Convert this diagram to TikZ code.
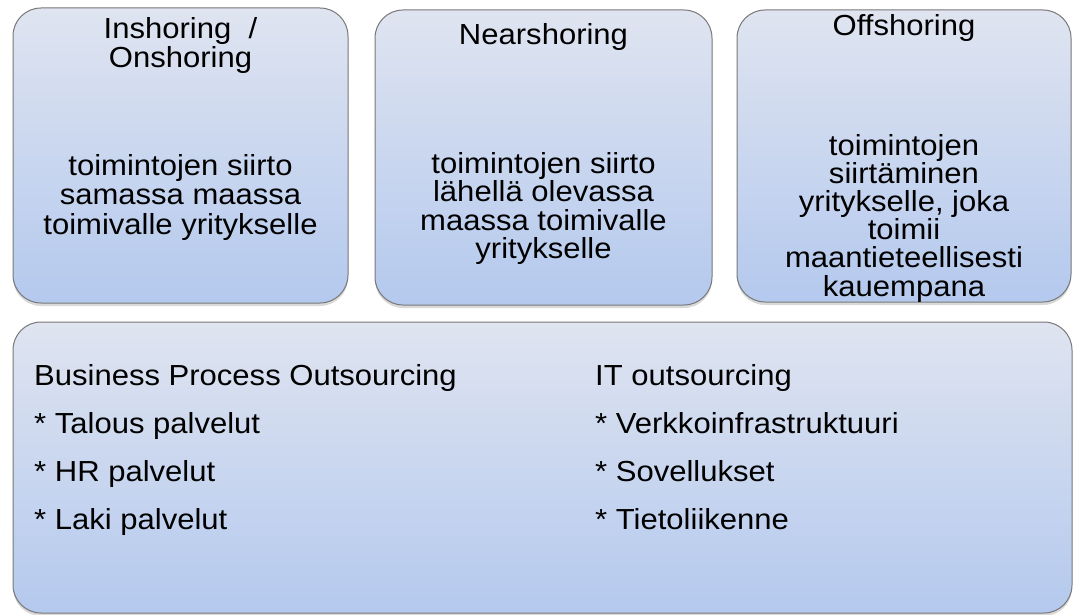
\documentclass[tikz,border=0pt]{standalone}
\usepackage{fontspec}
\setmainfont{Liberation Sans}[FakeStretch=1.07]
\usepackage{tikz}
\usetikzlibrary{shadows}
\definecolor{boxtop}{RGB}{223,228,240}
\definecolor{boxbottom}{RGB}{180,201,238}
\definecolor{boxline}{RGB}{120,120,120}
\tikzstyle{shore} = [rectangle, rounded corners=28pt, draw=boxline, line width=1pt, top color=boxtop, bottom color=boxbottom, drop shadow={opacity=0.3, shadow xshift=0pt, shadow yshift=-3pt}, inner sep=0pt]
\tikzstyle{boxtext} = [inner sep=0pt, align=center, anchor=north, font=\fontsize{29}{29.5}\selectfont]
\tikzstyle{listtext} = [inner sep=0pt, align=left, anchor=north west, font=\fontsize{29}{48}\selectfont]

\begin{document}
\begin{tikzpicture}[x=1pt, y=-1pt]
                        \useasboundingbox (0,0) rectangle (1075,615);

                        \node (1) [shore, minimum width=335pt, minimum height=295pt] at (180.5,155.5) {};
                        \node (2) [shore, minimum width=337pt, minimum height=295pt] at (543.5,157.5) {};
                        \node (3) [shore, minimum width=334pt, minimum height=292pt] at (904,156) {};
                        \node (4) [shore, minimum width=1059pt, minimum height=291pt] at (542.5,467.5) {};

                        \node (1a) [boxtext] at (1.center |- 0,16.8) {Inshoring\ \ /\\Onshoring};
                        \node (1b) [boxtext] at (1.center |- 0,153.8) {toimintojen siirto\\samassa maassa\\toimivalle yritykselle};

                        \node (2a) [boxtext] at (2.center |- 0,22.8) {Nearshoring};
                        \node (2b) [boxtext, font=\fontsize{29}{28.5}\selectfont] at (2.center |- 0,151.8) {toimintojen siirto\\lähellä olevassa\\maassa toimivalle\\yritykselle};

                        \node (3a) [boxtext] at (3.center |- 0,13.8) {Offshoring};
                        \node (3b) [boxtext, font=\fontsize{29}{28.2}\selectfont] at (3.center |- 0,133.8) {toimintojen\\siirtäminen\\yritykselle, joka\\toimii\\maantieteellisesti\\kauempana};

                        \node (4a) [listtext] at (34,363.8) {Business Process Outsourcing\\* Talous palvelut\\* HR palvelut\\* Laki palvelut};
                        \node (4b) [listtext] at (595,363.8) {IT outsourcing\\* Verkkoinfrastruktuuri\\* Sovellukset\\* Tietoliikenne};

                    \end{tikzpicture}
\end{document}
